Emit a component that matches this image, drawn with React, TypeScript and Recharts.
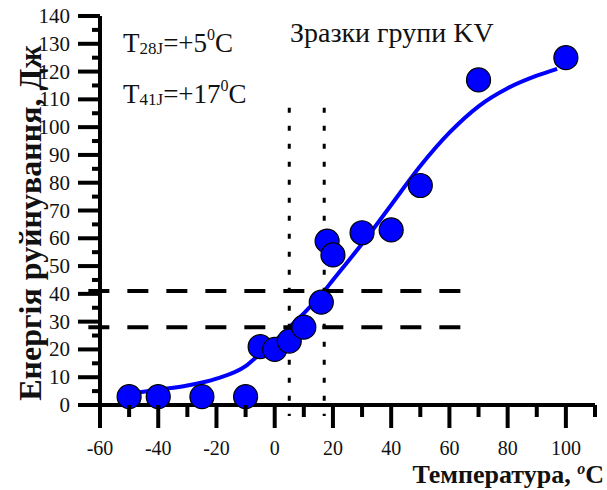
import React from 'react';
import { ComposedChart, Line, Scatter, XAxis, YAxis, ReferenceLine } from 'recharts';

// measured impact energy (J) vs test temperature (°C)
const samples = [
  { x: -50, y: 3 },
  { x: -40, y: 3 },
  { x: -25, y: 3 },
  { x: -10, y: 3 },
  { x: -5, y: 21 },
  { x: 0, y: 20 },
  { x: 5, y: 23 },
  { x: 10, y: 28 },
  { x: 16, y: 37 },
  { x: 18, y: 59 },
  { x: 20, y: 54 },
  { x: 30, y: 62 },
  { x: 40, y: 63 },
  { x: 50, y: 79 },
  { x: 70, y: 117 },
  { x: 100, y: 125 },
];

// fitted transition curve
const fitCurve = [
  { x: -47, y: 4.5 },
  { x: -40, y: 5.5 },
  { x: -30, y: 7 },
  { x: -20, y: 9.5 },
  { x: -10, y: 14 },
  { x: -5, y: 18.5 },
  { x: 0, y: 23 },
  { x: 5, y: 28 },
  { x: 10, y: 33 },
  { x: 17, y: 41 },
  { x: 20, y: 45 },
  { x: 30, y: 58 },
  { x: 40, y: 72 },
  { x: 50, y: 86 },
  { x: 60, y: 98 },
  { x: 70, y: 107.5 },
  { x: 80, y: 114 },
  { x: 90, y: 118.5 },
  { x: 97, y: 121 },
];

const xTicks = [-60, -50, -40, -30, -20, -10, 0, 10, 20, 30, 40, 50, 60, 70, 80, 90, 100, 110];
const yTicks = [0, 5, 10, 15, 20, 25, 30, 35, 40, 45, 50, 55, 60, 65, 70, 75, 80, 85, 90, 95, 100, 105, 110, 115, 120, 125, 130, 135, 140];

const energyLevels = [28, 41];
const transitionTemps = [5, 17];
const hLineFrom = -64;
const hLineTo = 65;
const vLineTop = 107;
const vLineBottom = -4;

const FONT = 'Liberation Serif, Times New Roman, serif';
const BLUE = '#0000ff';
const serif = { fontFamily: FONT };

const YTick = (props: any) => {
  const { x, y, payload } = props;
  const major = payload.value % 10 === 0;
  return (
    <g>
      <line x1={x - (major ? 22 : 8)} y1={y} x2={x} y2={y} stroke="#000" strokeWidth={4} />
      {major && (
        <text x={x - 30} y={y + 7} textAnchor="end" fontSize={21} style={serif} fill="#111">
          {payload.value}
        </text>
      )}
    </g>
  );
};

const XTick = (props: any) => {
  const { x, y, payload } = props;
  const major = payload.value % 20 === 0;
  return (
    <g>
      <line x1={x} y1={y} x2={x} y2={y + (major ? 23 : 12)} stroke="#000" strokeWidth={4} />
      {major && payload.value <= 100 && (
        <text x={x} y={y + 50} textAnchor="middle" fontSize={20} style={serif} fill="#111">
          {payload.value}
        </text>
      )}
    </g>
  );
};

const Dot = (props: any) => (
  <circle cx={props.cx} cy={props.cy} r={12} fill={BLUE} stroke="#000" strokeWidth={1.2} />
);

export default function App() {
  return (
    <div style={{ position: 'absolute', left: 0, top: 0, width: 607, height: 490, background: '#fff' }}>
      <ComposedChart width={607} height={490} margin={{ top: 16, right: 12, bottom: 55, left: 40 }}>
        <XAxis
          type="number"
          dataKey="x"
          domain={[-60, 110]}
          ticks={xTicks}
          interval={0}
          tickSize={0}
          tickMargin={0}
          tickLine={false}
          tick={<XTick />}
          axisLine={{ stroke: '#000', strokeWidth: 4 }}
          height={30}
        />
        <YAxis
          type="number"
          dataKey="y"
          domain={[0, 140]}
          ticks={yTicks}
          interval={0}
          tickSize={0}
          tickMargin={0}
          tickLine={false}
          tick={<YTick />}
          axisLine={{ stroke: '#000', strokeWidth: 4 }}
          width={60}
        />
        <Line
          data={fitCurve}
          dataKey="y"
          type="monotone"
          stroke={BLUE}
          strokeWidth={4}
          dot={false}
          isAnimationActive={false}
        />
        <Scatter data={samples} dataKey="y" shape={<Dot />} isAnimationActive={false} />
        {energyLevels.map((e) => (
          <ReferenceLine
            key={'h' + e}
            segment={[{ x: hLineFrom, y: e }, { x: hLineTo, y: e }]}
            stroke="#000"
            strokeWidth={4}
            strokeDasharray="21 18"
            ifOverflow="visible"
          />
        ))}
        {transitionTemps.map((t) => (
          <ReferenceLine
            key={'v' + t}
            segment={[{ x: t, y: vLineTop }, { x: t, y: vLineBottom }]}
            stroke="#000"
            strokeWidth={3}
            strokeDasharray="5 13"
            ifOverflow="visible"
          />
        ))}
      </ComposedChart>
      <svg width={607} height={490} style={{ position: 'absolute', left: 0, top: 0, pointerEvents: 'none', ...serif }}>
        <text x={123} y={52} fontSize={27} fill="#111">
          T<tspan fontSize={17} dy={2}>28J</tspan>
          <tspan dy={-2}>=+5</tspan>
          <tspan fontSize={16} dy={-12}>0</tspan>
          <tspan dy={12}>C</tspan>
        </text>
        <text x={123} y={103} fontSize={27} fill="#111">
          T<tspan fontSize={17} dy={2}>41J</tspan>
          <tspan dy={-2}>=+17</tspan>
          <tspan fontSize={16} dy={-12}>0</tspan>
          <tspan dy={12}>C</tspan>
        </text>
        <text x={290} y={42} fontSize={28} fill="#111">
          Зразки групи KV
        </text>
        <text x={604} y={483} textAnchor="end" fontSize={26} fontWeight="bold" fill="#111">
          Температура, <tspan fontStyle="italic" fontSize={16} dy={-9}>o</tspan>
          <tspan dy={9}>C</tspan>
        </text>
        <text
          transform="translate(41,223) rotate(-90)"
          textAnchor="middle"
          fontSize={32}
          fontWeight="bold"
          fill="#111"
        >
          Енергія руйнування, Дж
        </text>
      </svg>
    </div>
  );
}
